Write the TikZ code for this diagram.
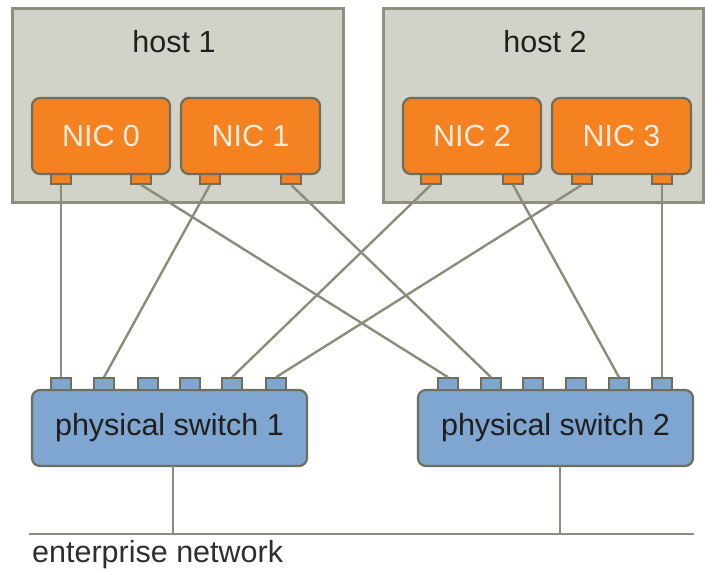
\documentclass[tikz,border=0pt]{standalone}
\usepackage{fontspec}
\setmainfont{Liberation Sans}
\definecolor{hostfill}{HTML}{D2D3C8}
\definecolor{hostline}{HTML}{8F8F80}
\definecolor{nicfill}{HTML}{F58220}
\definecolor{darkline}{HTML}{6E6E5C}
\definecolor{swfill}{HTML}{7FA6D0}
\definecolor{wire}{HTML}{8C8C7A}
\definecolor{nictext}{HTML}{FDEBDD}
\begin{document}
\begin{tikzpicture}[x=1pt,y=-1pt,
  lbl/.style={font=\fontsize{30.5}{36}\selectfont},
  hostbox/.style={draw=hostline,line width=3pt,fill=hostfill,inner sep=0pt,
    minimum height=194pt},
  nicbox/.style={draw=darkline,line width=2.2pt,fill=nicfill,rounded corners=8pt,
    inner sep=0pt,minimum width=138pt,minimum height=76pt,text=nictext,lbl},
  nicport/.style={draw=darkline,line width=1.6pt,fill=nicfill,inner sep=0pt,
    minimum width=20pt,minimum height=10pt},
  swbox/.style={draw=darkline,line width=2.2pt,fill=swfill,rounded corners=8pt,
    inner sep=0pt,minimum width=275pt,minimum height=76pt,text=black!88,lbl},
  swport/.style={draw=darkline,line width=1.6pt,fill=swfill,inner sep=0pt,
    minimum width=20pt,minimum height=12pt},
  link/.style={draw=wire,line width=2.4pt}]
\useasboundingbox (0,0) rectangle (705,571);

% hosts
\node[hostbox,minimum width=331pt] (h1) at (177.5,105) {};
\node[hostbox,minimum width=320pt] (h2) at (543,105) {};
\node[lbl,text=black!88] (h1t) at (174,42) {host 1};
\node[lbl,text=black!88] (h2t) at (545,42) {host 2};

% NIC ports (drawn below the cards)
\foreach \n/\x in {n0a/61,n0b/141,n1a/210,n1b/291,n2a/431,n2b/513,n3a/582,n3b/662}
  \node[nicport] (\n) at (\x,179) {};

% network cards
\node[nicbox] (nic0) at (101,136) {NIC 0};
\node[nicbox,minimum width=139pt] (nic1) at (250.5,136) {NIC 1};
\node[nicbox] (nic2) at (472,136) {NIC 2};
\node[nicbox,minimum width=139pt] (nic3) at (621.5,136) {NIC 3};

% switches
\node[swbox] (sw1) at (169.5,428) {physical switch 1};
\node[swbox] (sw2) at (555.5,428) {physical switch 2};
\foreach \n/\x in {a1/61,a2/104,a3/148,a4/190,a5/232,a6/276}
  \node[swport] (\n) at (\x,384) {};
\foreach \n/\x in {b1/448,b2/491,b3/533,b4/576,b5/619,b6/662}
  \node[swport] (\n) at (\x,384) {};

% cabling between NIC ports and switch ports
\draw[link] (n0a.south) -- (a1.north);
\draw[link] (n0b.south) -- (b1.north);
\draw[link] (n1a.south) -- (a2.north);
\draw[link] (n1b.south) -- (b2.north);
\draw[link] (n2a.south) -- (a5.north);
\draw[link] (n2b.south) -- (b5.north);
\draw[link] (n3a.south) -- (a6.north);
\draw[link] (n3b.south) -- (b6.north);

% enterprise network backbone
\coordinate (netL) at (29,534);
\coordinate (netR) at (694,534);
\coordinate (tap1) at (173,466);
\coordinate (tap2) at (560,466);
\draw[link] (netL) -- (netR);
\draw[link] (tap1) -- (tap1 |- netL);
\draw[link] (tap2) -- (tap2 |- netL);
\node[lbl,text=black!82,anchor=west,inner sep=0pt] (net) at (32,555) {enterprise network};
\end{tikzpicture}
\end{document}
